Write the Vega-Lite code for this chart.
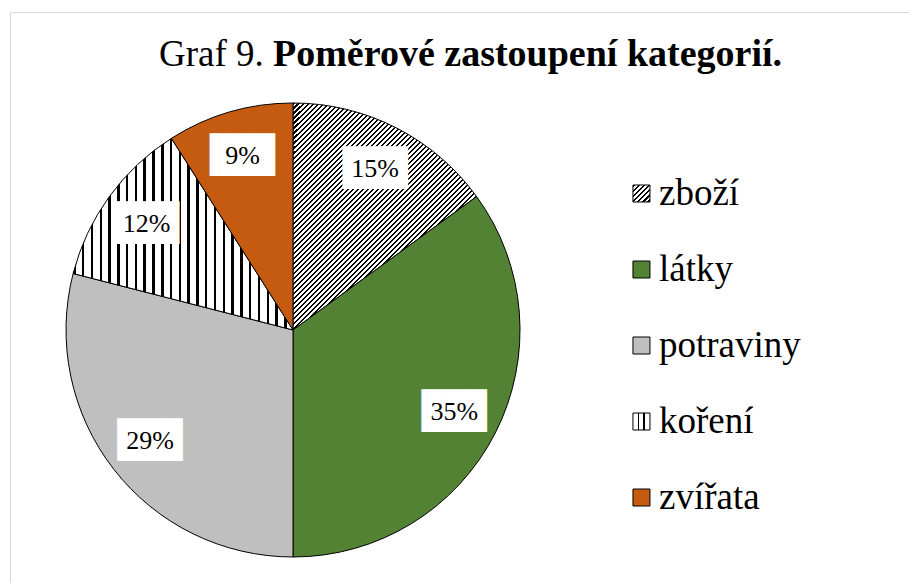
{
"$schema": "https://vega.github.io/schema/vega-lite/v6.json",
"width": 899, "height": 571,
"autosize": {"type": "none"},
"padding": {"left": 10, "top": 12, "right": 0, "bottom": 0},
"background": "white",
"config": {"view": {"stroke": "#d9d9d9", "strokeWidth": 1, "strokeDash": [899, 1470, 571]}, "font": "Liberation Serif, Times New Roman, DejaVu Serif, serif"},
"title": {"text": "Graf 9.", "subtitle": "\u200b\u00a0\u00a0\u00a0\u00a0\u00a0\u00a0\u00a0\u00a0\u00a0\u00a0\u00a0\u00a0Poměrové zastoupení kategorií.", "anchor": "start", "frame": "group", "dx": 149, "offset": -63, "font": "Liberation Serif, Times New Roman, DejaVu Serif, serif", "fontSize": 37, "fontWeight": "normal", "color": "black", "subtitleFont": "Liberation Serif, Times New Roman, DejaVu Serif, serif", "subtitleFontSize": 38, "subtitleFontWeight": "bold", "subtitleColor": "black", "subtitlePadding": -37.5},
"data": {"values": [
{"kategorie": "zboží", "podil": 0.15},
{"kategorie": "látky", "podil": 0.35},
{"kategorie": "potraviny", "podil": 0.29},
{"kategorie": "koření", "podil": 0.12},
{"kategorie": "zvířata", "podil": 0.09}
]},
"transform": [{"window": [{"op": "row_number", "as": "poradi"}]}],
"resolve": {"scale": {"y": "independent"}},
"layer": [
{"mark": {"type": "arc", "outerRadius": 227, "stroke": "black", "strokeWidth": 1},
"encoding": {
"theta": {"field": "podil", "type": "quantitative", "stack": true},
"order": {"field": "poradi", "type": "quantitative"},
"x": {"datum": 0.3148, "type": "quantitative", "scale": {"domain": [0, 1]}, "axis": null},
"y": {"datum": 0.5569, "type": "quantitative", "scale": {"domain": [0, 1], "reverse": true}, "axis": null},
"fill": {
"condition": [
{"test": "datum.kategorie === 'zboží'", "value": {"gradient": "linear", "x1": 0, "y1": 0, "x2": 1.077, "y2": 1.332, "stops": [
{"offset":0,"color":"#000"},{"offset":0.005,"color":"#000"},{"offset":0.005,"color":"#fff"},{"offset":0.01,"color":"#fff"},
{"offset":0.01,"color":"#000"},{"offset":0.015,"color":"#000"},{"offset":0.015,"color":"#fff"},{"offset":0.02,"color":"#fff"},
{"offset":0.02,"color":"#000"},{"offset":0.025,"color":"#000"},{"offset":0.025,"color":"#fff"},{"offset":0.03,"color":"#fff"},
{"offset":0.03,"color":"#000"},{"offset":0.035,"color":"#000"},{"offset":0.035,"color":"#fff"},{"offset":0.04,"color":"#fff"},
{"offset":0.04,"color":"#000"},{"offset":0.045,"color":"#000"},{"offset":0.045,"color":"#fff"},{"offset":0.05,"color":"#fff"},
{"offset":0.05,"color":"#000"},{"offset":0.055,"color":"#000"},{"offset":0.055,"color":"#fff"},{"offset":0.06,"color":"#fff"},
{"offset":0.06,"color":"#000"},{"offset":0.065,"color":"#000"},{"offset":0.065,"color":"#fff"},{"offset":0.07,"color":"#fff"},
{"offset":0.07,"color":"#000"},{"offset":0.075,"color":"#000"},{"offset":0.075,"color":"#fff"},{"offset":0.08,"color":"#fff"},
{"offset":0.08,"color":"#000"},{"offset":0.085,"color":"#000"},{"offset":0.085,"color":"#fff"},{"offset":0.09,"color":"#fff"},
{"offset":0.09,"color":"#000"},{"offset":0.095,"color":"#000"},{"offset":0.095,"color":"#fff"},{"offset":0.1,"color":"#fff"},
{"offset":0.1,"color":"#000"},{"offset":0.105,"color":"#000"},{"offset":0.105,"color":"#fff"},{"offset":0.11,"color":"#fff"},
{"offset":0.11,"color":"#000"},{"offset":0.115,"color":"#000"},{"offset":0.115,"color":"#fff"},{"offset":0.12,"color":"#fff"},
{"offset":0.12,"color":"#000"},{"offset":0.125,"color":"#000"},{"offset":0.125,"color":"#fff"},{"offset":0.13,"color":"#fff"},
{"offset":0.13,"color":"#000"},{"offset":0.135,"color":"#000"},{"offset":0.135,"color":"#fff"},{"offset":0.14,"color":"#fff"},
{"offset":0.14,"color":"#000"},{"offset":0.145,"color":"#000"},{"offset":0.145,"color":"#fff"},{"offset":0.15,"color":"#fff"},
{"offset":0.15,"color":"#000"},{"offset":0.155,"color":"#000"},{"offset":0.155,"color":"#fff"},{"offset":0.16,"color":"#fff"},
{"offset":0.16,"color":"#000"},{"offset":0.165,"color":"#000"},{"offset":0.165,"color":"#fff"},{"offset":0.17,"color":"#fff"},
{"offset":0.17,"color":"#000"},{"offset":0.175,"color":"#000"},{"offset":0.175,"color":"#fff"},{"offset":0.18,"color":"#fff"},
{"offset":0.18,"color":"#000"},{"offset":0.185,"color":"#000"},{"offset":0.185,"color":"#fff"},{"offset":0.19,"color":"#fff"},
{"offset":0.19,"color":"#000"},{"offset":0.195,"color":"#000"},{"offset":0.195,"color":"#fff"},{"offset":0.2,"color":"#fff"},
{"offset":0.2,"color":"#000"},{"offset":0.205,"color":"#000"},{"offset":0.205,"color":"#fff"},{"offset":0.21,"color":"#fff"},
{"offset":0.21,"color":"#000"},{"offset":0.215,"color":"#000"},{"offset":0.215,"color":"#fff"},{"offset":0.22,"color":"#fff"},
{"offset":0.22,"color":"#000"},{"offset":0.225,"color":"#000"},{"offset":0.225,"color":"#fff"},{"offset":0.23,"color":"#fff"},
{"offset":0.23,"color":"#000"},{"offset":0.235,"color":"#000"},{"offset":0.235,"color":"#fff"},{"offset":0.24,"color":"#fff"},
{"offset":0.24,"color":"#000"},{"offset":0.245,"color":"#000"},{"offset":0.245,"color":"#fff"},{"offset":0.25,"color":"#fff"},
{"offset":0.25,"color":"#000"},{"offset":0.255,"color":"#000"},{"offset":0.255,"color":"#fff"},{"offset":0.26,"color":"#fff"},
{"offset":0.26,"color":"#000"},{"offset":0.265,"color":"#000"},{"offset":0.265,"color":"#fff"},{"offset":0.27,"color":"#fff"},
{"offset":0.27,"color":"#000"},{"offset":0.275,"color":"#000"},{"offset":0.275,"color":"#fff"},{"offset":0.28,"color":"#fff"},
{"offset":0.28,"color":"#000"},{"offset":0.285,"color":"#000"},{"offset":0.285,"color":"#fff"},{"offset":0.29,"color":"#fff"},
{"offset":0.29,"color":"#000"},{"offset":0.295,"color":"#000"},{"offset":0.295,"color":"#fff"},{"offset":0.3,"color":"#fff"},
{"offset":0.3,"color":"#000"},{"offset":0.305,"color":"#000"},{"offset":0.305,"color":"#fff"},{"offset":0.31,"color":"#fff"},
{"offset":0.31,"color":"#000"},{"offset":0.315,"color":"#000"},{"offset":0.315,"color":"#fff"},{"offset":0.32,"color":"#fff"},
{"offset":0.32,"color":"#000"},{"offset":0.325,"color":"#000"},{"offset":0.325,"color":"#fff"},{"offset":0.33,"color":"#fff"},
{"offset":0.33,"color":"#000"},{"offset":0.335,"color":"#000"},{"offset":0.335,"color":"#fff"},{"offset":0.34,"color":"#fff"},
{"offset":0.34,"color":"#000"},{"offset":0.345,"color":"#000"},{"offset":0.345,"color":"#fff"},{"offset":0.35,"color":"#fff"},
{"offset":0.35,"color":"#000"},{"offset":0.355,"color":"#000"},{"offset":0.355,"color":"#fff"},{"offset":0.36,"color":"#fff"},
{"offset":0.36,"color":"#000"},{"offset":0.365,"color":"#000"},{"offset":0.365,"color":"#fff"},{"offset":0.37,"color":"#fff"},
{"offset":0.37,"color":"#000"},{"offset":0.375,"color":"#000"},{"offset":0.375,"color":"#fff"},{"offset":0.38,"color":"#fff"},
{"offset":0.38,"color":"#000"},{"offset":0.385,"color":"#000"},{"offset":0.385,"color":"#fff"},{"offset":0.39,"color":"#fff"},
{"offset":0.39,"color":"#000"},{"offset":0.395,"color":"#000"},{"offset":0.395,"color":"#fff"},{"offset":0.4,"color":"#fff"},
{"offset":0.4,"color":"#000"},{"offset":0.405,"color":"#000"},{"offset":0.405,"color":"#fff"},{"offset":0.41,"color":"#fff"},
{"offset":0.41,"color":"#000"},{"offset":0.415,"color":"#000"},{"offset":0.415,"color":"#fff"},{"offset":0.42,"color":"#fff"},
{"offset":0.42,"color":"#000"},{"offset":0.425,"color":"#000"},{"offset":0.425,"color":"#fff"},{"offset":0.43,"color":"#fff"},
{"offset":0.43,"color":"#000"},{"offset":0.435,"color":"#000"},{"offset":0.435,"color":"#fff"},{"offset":0.44,"color":"#fff"},
{"offset":0.44,"color":"#000"},{"offset":0.445,"color":"#000"},{"offset":0.445,"color":"#fff"},{"offset":0.45,"color":"#fff"},
{"offset":0.45,"color":"#000"},{"offset":0.455,"color":"#000"},{"offset":0.455,"color":"#fff"},{"offset":0.46,"color":"#fff"},
{"offset":0.46,"color":"#000"},{"offset":0.465,"color":"#000"},{"offset":0.465,"color":"#fff"},{"offset":0.47,"color":"#fff"},
{"offset":0.47,"color":"#000"},{"offset":0.475,"color":"#000"},{"offset":0.475,"color":"#fff"},{"offset":0.48,"color":"#fff"},
{"offset":0.48,"color":"#000"},{"offset":0.485,"color":"#000"},{"offset":0.485,"color":"#fff"},{"offset":0.49,"color":"#fff"},
{"offset":0.49,"color":"#000"},{"offset":0.495,"color":"#000"},{"offset":0.495,"color":"#fff"},{"offset":0.5,"color":"#fff"},
{"offset":0.5,"color":"#000"},{"offset":0.505,"color":"#000"},{"offset":0.505,"color":"#fff"},{"offset":0.51,"color":"#fff"},
{"offset":0.51,"color":"#000"},{"offset":0.515,"color":"#000"},{"offset":0.515,"color":"#fff"},{"offset":0.52,"color":"#fff"},
{"offset":0.52,"color":"#000"},{"offset":0.525,"color":"#000"},{"offset":0.525,"color":"#fff"},{"offset":0.53,"color":"#fff"},
{"offset":0.53,"color":"#000"},{"offset":0.535,"color":"#000"},{"offset":0.535,"color":"#fff"},{"offset":0.54,"color":"#fff"},
{"offset":0.54,"color":"#000"},{"offset":0.545,"color":"#000"},{"offset":0.545,"color":"#fff"},{"offset":0.55,"color":"#fff"},
{"offset":0.55,"color":"#000"},{"offset":0.555,"color":"#000"},{"offset":0.555,"color":"#fff"},{"offset":0.56,"color":"#fff"},
{"offset":0.56,"color":"#000"},{"offset":0.565,"color":"#000"},{"offset":0.565,"color":"#fff"},{"offset":0.57,"color":"#fff"},
{"offset":0.57,"color":"#000"},{"offset":0.575,"color":"#000"},{"offset":0.575,"color":"#fff"},{"offset":0.58,"color":"#fff"},
{"offset":0.58,"color":"#000"},{"offset":0.585,"color":"#000"},{"offset":0.585,"color":"#fff"},{"offset":0.59,"color":"#fff"},
{"offset":0.59,"color":"#000"},{"offset":0.595,"color":"#000"},{"offset":0.595,"color":"#fff"},{"offset":0.6,"color":"#fff"},
{"offset":0.6,"color":"#000"},{"offset":0.605,"color":"#000"},{"offset":0.605,"color":"#fff"},{"offset":0.61,"color":"#fff"},
{"offset":0.61,"color":"#000"},{"offset":0.615,"color":"#000"},{"offset":0.615,"color":"#fff"},{"offset":0.62,"color":"#fff"},
{"offset":0.62,"color":"#000"},{"offset":0.625,"color":"#000"},{"offset":0.625,"color":"#fff"},{"offset":0.63,"color":"#fff"},
{"offset":0.63,"color":"#000"},{"offset":0.635,"color":"#000"},{"offset":0.635,"color":"#fff"},{"offset":0.64,"color":"#fff"},
{"offset":0.64,"color":"#000"},{"offset":0.645,"color":"#000"},{"offset":0.645,"color":"#fff"},{"offset":0.65,"color":"#fff"},
{"offset":0.65,"color":"#000"},{"offset":0.655,"color":"#000"},{"offset":0.655,"color":"#fff"},{"offset":0.66,"color":"#fff"},
{"offset":0.66,"color":"#000"},{"offset":0.665,"color":"#000"},{"offset":0.665,"color":"#fff"},{"offset":0.67,"color":"#fff"},
{"offset":0.67,"color":"#000"},{"offset":0.675,"color":"#000"},{"offset":0.675,"color":"#fff"},{"offset":0.68,"color":"#fff"},
{"offset":0.68,"color":"#000"},{"offset":0.685,"color":"#000"},{"offset":0.685,"color":"#fff"},{"offset":0.69,"color":"#fff"},
{"offset":0.69,"color":"#000"},{"offset":0.695,"color":"#000"},{"offset":0.695,"color":"#fff"},{"offset":0.7,"color":"#fff"},
{"offset":0.7,"color":"#000"},{"offset":0.705,"color":"#000"},{"offset":0.705,"color":"#fff"},{"offset":0.71,"color":"#fff"},
{"offset":0.71,"color":"#000"},{"offset":0.715,"color":"#000"},{"offset":0.715,"color":"#fff"},{"offset":0.72,"color":"#fff"},
{"offset":0.72,"color":"#000"},{"offset":0.725,"color":"#000"},{"offset":0.725,"color":"#fff"},{"offset":0.73,"color":"#fff"},
{"offset":0.73,"color":"#000"},{"offset":0.735,"color":"#000"},{"offset":0.735,"color":"#fff"},{"offset":0.74,"color":"#fff"},
{"offset":0.74,"color":"#000"},{"offset":0.745,"color":"#000"},{"offset":0.745,"color":"#fff"},{"offset":0.75,"color":"#fff"},
{"offset":0.75,"color":"#000"},{"offset":0.755,"color":"#000"},{"offset":0.755,"color":"#fff"},{"offset":0.76,"color":"#fff"},
{"offset":0.76,"color":"#000"},{"offset":0.765,"color":"#000"},{"offset":0.765,"color":"#fff"},{"offset":0.77,"color":"#fff"},
{"offset":0.77,"color":"#000"},{"offset":0.775,"color":"#000"},{"offset":0.775,"color":"#fff"},{"offset":0.78,"color":"#fff"},
{"offset":0.78,"color":"#000"},{"offset":0.785,"color":"#000"},{"offset":0.785,"color":"#fff"},{"offset":0.79,"color":"#fff"},
{"offset":0.79,"color":"#000"},{"offset":0.795,"color":"#000"},{"offset":0.795,"color":"#fff"},{"offset":0.8,"color":"#fff"},
{"offset":0.8,"color":"#000"},{"offset":0.805,"color":"#000"},{"offset":0.805,"color":"#fff"},{"offset":0.81,"color":"#fff"},
{"offset":0.81,"color":"#000"},{"offset":0.815,"color":"#000"},{"offset":0.815,"color":"#fff"},{"offset":0.82,"color":"#fff"}
]}},
{"test": "datum.kategorie === 'koření'", "value": {"gradient": "linear", "x1": 0, "y1": 0, "x2": 1, "y2": 0, "stops": [
{"offset":0,"color":"#000"},{"offset":0.011,"color":"#000"},{"offset":0.011,"color":"#fff"},{"offset":0.04,"color":"#fff"},
{"offset":0.04,"color":"#000"},{"offset":0.051,"color":"#000"},{"offset":0.051,"color":"#fff"},{"offset":0.08,"color":"#fff"},
{"offset":0.08,"color":"#000"},{"offset":0.091,"color":"#000"},{"offset":0.091,"color":"#fff"},{"offset":0.12,"color":"#fff"},
{"offset":0.12,"color":"#000"},{"offset":0.131,"color":"#000"},{"offset":0.131,"color":"#fff"},{"offset":0.16,"color":"#fff"},
{"offset":0.16,"color":"#000"},{"offset":0.171,"color":"#000"},{"offset":0.171,"color":"#fff"},{"offset":0.2,"color":"#fff"},
{"offset":0.2,"color":"#000"},{"offset":0.211,"color":"#000"},{"offset":0.211,"color":"#fff"},{"offset":0.24,"color":"#fff"},
{"offset":0.24,"color":"#000"},{"offset":0.251,"color":"#000"},{"offset":0.251,"color":"#fff"},{"offset":0.28,"color":"#fff"},
{"offset":0.28,"color":"#000"},{"offset":0.291,"color":"#000"},{"offset":0.291,"color":"#fff"},{"offset":0.32,"color":"#fff"},
{"offset":0.32,"color":"#000"},{"offset":0.331,"color":"#000"},{"offset":0.331,"color":"#fff"},{"offset":0.36,"color":"#fff"},
{"offset":0.36,"color":"#000"},{"offset":0.371,"color":"#000"},{"offset":0.371,"color":"#fff"},{"offset":0.4,"color":"#fff"},
{"offset":0.4,"color":"#000"},{"offset":0.411,"color":"#000"},{"offset":0.411,"color":"#fff"},{"offset":0.44,"color":"#fff"},
{"offset":0.44,"color":"#000"},{"offset":0.451,"color":"#000"},{"offset":0.451,"color":"#fff"},{"offset":0.48,"color":"#fff"},
{"offset":0.48,"color":"#000"},{"offset":0.491,"color":"#000"},{"offset":0.491,"color":"#fff"},{"offset":0.52,"color":"#fff"},
{"offset":0.52,"color":"#000"},{"offset":0.531,"color":"#000"},{"offset":0.531,"color":"#fff"},{"offset":0.56,"color":"#fff"},
{"offset":0.56,"color":"#000"},{"offset":0.571,"color":"#000"},{"offset":0.571,"color":"#fff"},{"offset":0.6,"color":"#fff"},
{"offset":0.6,"color":"#000"},{"offset":0.611,"color":"#000"},{"offset":0.611,"color":"#fff"},{"offset":0.64,"color":"#fff"},
{"offset":0.64,"color":"#000"},{"offset":0.651,"color":"#000"},{"offset":0.651,"color":"#fff"},{"offset":0.68,"color":"#fff"},
{"offset":0.68,"color":"#000"},{"offset":0.691,"color":"#000"},{"offset":0.691,"color":"#fff"},{"offset":0.72,"color":"#fff"},
{"offset":0.72,"color":"#000"},{"offset":0.731,"color":"#000"},{"offset":0.731,"color":"#fff"},{"offset":0.76,"color":"#fff"},
{"offset":0.76,"color":"#000"},{"offset":0.771,"color":"#000"},{"offset":0.771,"color":"#fff"},{"offset":0.8,"color":"#fff"},
{"offset":0.8,"color":"#000"},{"offset":0.811,"color":"#000"},{"offset":0.811,"color":"#fff"},{"offset":0.84,"color":"#fff"},
{"offset":0.84,"color":"#000"},{"offset":0.851,"color":"#000"},{"offset":0.851,"color":"#fff"},{"offset":0.88,"color":"#fff"},
{"offset":0.88,"color":"#000"},{"offset":0.891,"color":"#000"},{"offset":0.891,"color":"#fff"},{"offset":0.92,"color":"#fff"},
{"offset":0.92,"color":"#000"},{"offset":0.931,"color":"#000"},{"offset":0.931,"color":"#fff"},{"offset":0.96,"color":"#fff"},
{"offset":0.96,"color":"#000"},{"offset":0.971,"color":"#000"},{"offset":0.971,"color":"#fff"},{"offset":1,"color":"#fff"}
]}}
],
"field": "kategorie", "type": "nominal",
"scale": {"domain": ["zboží", "látky", "potraviny", "koření", "zvířata"], "range": ["#7f7f7f", "#548235", "#bfbfbf", "#ffffff", "#c55a11"]},
"legend": null
}}},
{"mark": {"type": "text", "font": "DejaVu Sans Mono", "fontSize": 36, "fill": "white", "align": "center", "baseline": "middle"},
"encoding": {
"theta": {"field": "podil", "type": "quantitative", "stack": true},
"order": {"field": "poradi", "type": "quantitative"},
"x": {"datum": 0.3148, "type": "quantitative", "scale": {"domain": [0, 1]}, "axis": null},
"y": {"datum": 0.5569, "type": "quantitative", "scale": {"domain": [0, 1], "reverse": true}, "axis": null},
"detail": {"field": "kategorie", "type": "nominal"}, "radius": {"value": 181}, "text": {"value": "███"}}},
{"mark": {"type": "text", "font": "Liberation Serif, Times New Roman, DejaVu Serif, serif", "fontSize": 26, "fill": "black", "align": "center", "baseline": "middle"},
"encoding": {
"theta": {"field": "podil", "type": "quantitative", "stack": true},
"order": {"field": "poradi", "type": "quantitative"},
"x": {"datum": 0.3148, "type": "quantitative", "scale": {"domain": [0, 1]}, "axis": null},
"y": {"datum": 0.5569, "type": "quantitative", "scale": {"domain": [0, 1], "reverse": true}, "axis": null},
"detail": {"field": "kategorie", "type": "nominal"}, "radius": {"value": 181}, "text": {"field": "podil", "type": "quantitative", "format": ".0%"}}},
{"mark": {"type": "point", "shape": "square", "size": 289, "filled": true, "stroke": "black", "strokeWidth": 1, "opacity": 1},
"encoding": {
"x": {"datum": 0.7024, "type": "quantitative", "scale": {"domain": [0, 1]}, "axis": null},
"y": {"field": "kategorie", "type": "nominal", "sort": null, "scale": {"domain": ["zboží", "látky", "potraviny", "koření", "zvířata"], "range": [181.5, 485.5], "padding": 0}, "axis": null},
"fill": {
"condition": [
{"test": "datum.kategorie === 'zboží'", "value": {"gradient": "linear", "x1": 0, "y1": 0, "x2": 1, "y2": 1, "stops": [
{"offset":0,"color":"#000"},{"offset":0.075,"color":"#000"},{"offset":0.075,"color":"#fff"},{"offset":0.15,"color":"#fff"},
{"offset":0.15,"color":"#000"},{"offset":0.225,"color":"#000"},{"offset":0.225,"color":"#fff"},{"offset":0.3,"color":"#fff"},
{"offset":0.3,"color":"#000"},{"offset":0.375,"color":"#000"},{"offset":0.375,"color":"#fff"},{"offset":0.45,"color":"#fff"},
{"offset":0.45,"color":"#000"},{"offset":0.525,"color":"#000"},{"offset":0.525,"color":"#fff"},{"offset":0.6,"color":"#fff"},
{"offset":0.6,"color":"#000"},{"offset":0.675,"color":"#000"},{"offset":0.675,"color":"#fff"},{"offset":0.75,"color":"#fff"},
{"offset":0.75,"color":"#000"},{"offset":0.825,"color":"#000"},{"offset":0.825,"color":"#fff"},{"offset":0.9,"color":"#fff"},
{"offset":0.9,"color":"#000"},{"offset":0.975,"color":"#000"},{"offset":0.975,"color":"#fff"},{"offset":1,"color":"#fff"}
]}},
{"test": "datum.kategorie === 'koření'", "value": {"gradient": "linear", "x1": 0, "y1": 0, "x2": 1, "y2": 0, "stops": [
{"offset":0,"color":"#fff"},{"offset":0.3,"color":"#fff"},{"offset":0.3,"color":"#000"},{"offset":0.38,"color":"#000"},{"offset":0.38,"color":"#fff"},{"offset":0.62,"color":"#fff"},{"offset":0.62,"color":"#000"},{"offset":0.7,"color":"#000"},{"offset":0.7,"color":"#fff"},{"offset":1,"color":"#fff"}
]}}
],
"field": "kategorie", "type": "nominal",
"scale": {"domain": ["zboží", "látky", "potraviny", "koření", "zvířata"], "range": ["#7f7f7f", "#548235", "#bfbfbf", "#ffffff", "#c55a11"]},
"legend": null
}}},
{"mark": {"type": "text", "font": "Liberation Serif, Times New Roman, DejaVu Serif, serif", "fontSize": 37, "fill": "black", "align": "left", "baseline": "middle"},
"encoding": {
"x": {"datum": 0.7219, "type": "quantitative", "scale": {"domain": [0, 1]}, "axis": null},
"y": {"field": "kategorie", "type": "nominal", "sort": null, "scale": {"domain": ["zboží", "látky", "potraviny", "koření", "zvířata"], "range": [181.5, 485.5], "padding": 0}, "axis": null},
"text": {"field": "kategorie", "type": "nominal"}}}
]
}
